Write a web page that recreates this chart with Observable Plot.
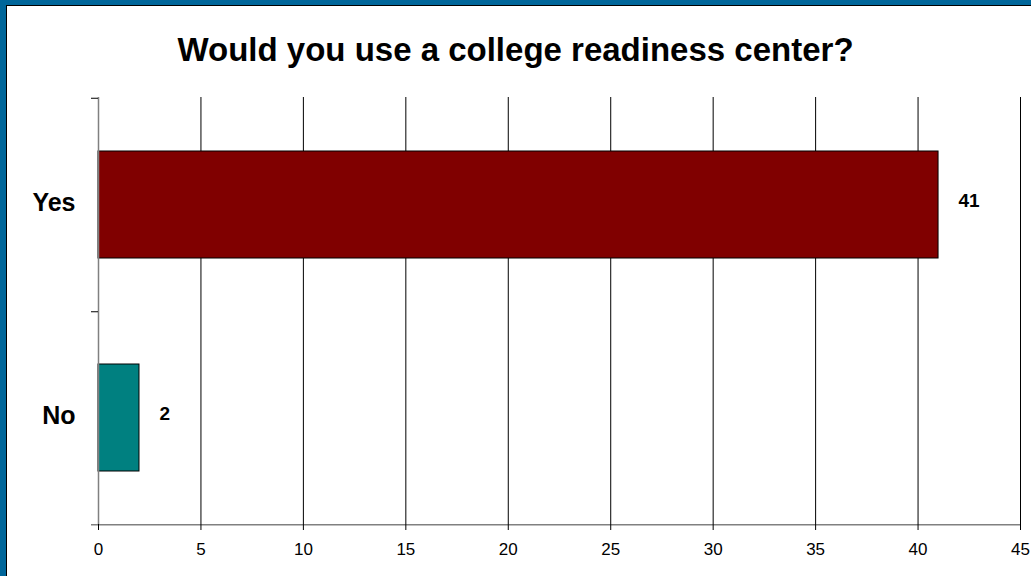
<!DOCTYPE html>
<html>
<head>
<meta charset="utf-8">
<script src="https://cdn.jsdelivr.net/npm/d3@7"></script>
<script src="https://cdn.jsdelivr.net/npm/@observablehq/plot@0.6"></script>
<style>
  html, body { margin: 0; padding: 0; background: #fff; }
  #page { position: relative; width: 1031px; height: 576px; overflow: hidden; background: #00669a; font-family: "Liberation Sans", Arial, sans-serif; }
  #inner { position: absolute; left: 6px; top: 5px; width: 1030px; height: 576px; background: #fff; border-left: 1px solid #000; border-top: 1px solid #000; }
  #title { position: absolute; left: 0; top: 0; width: 1031px; text-align: center; font-weight: bold; font-size: 33px; line-height: 1; padding-top: 33px; color: #000; }
  #chart { position: absolute; left: 0; top: 0; }
</style>
</head>
<body>
<div id="page">
  <div id="inner"></div>
  <div id="title">Would you use a college readiness center?</div>
  <div id="chart"></div>
</div>
<script>
const categories = ["Yes", "No"];
const values = [41, 2];
const barColors = ["#800000", "#008080"];
const xTicks = [0, 5, 10, 15, 20, 25, 30, 35, 40, 45];

const data = categories.map((c, i) => ({answer: c, value: values[i], color: barColors[i]}));

const W = 1031, H = 576, mL = 98, mR = 11, mT = 97, mB = 52;
const step = (H - mT - mB) / categories.length;
const half = step / 2;

const chart = Plot.plot({
  width: W,
  height: H,
  marginLeft: mL,
  marginRight: mR,
  marginTop: mT,
  marginBottom: mB,
  style: {background: "transparent", fontFamily: "'Liberation Sans', Arial, sans-serif", color: "#000"},
  x: {domain: [0, 45], ticks: xTicks},
  y: {domain: categories, paddingInner: 0.5, paddingOuter: 0.25, axis: null},
  marks: [
    Plot.gridX(xTicks, {stroke: "#000", strokeOpacity: 1, strokeWidth: 1}),
    Plot.barX(data, {x: "value", y: "answer", fill: "color", stroke: "#000", strokeWidth: 1}),
    Plot.ruleX([0], {stroke: "#808080", strokeWidth: 1.5}),
    Plot.ruleY(["No"], {dy: half, stroke: "#808080", strokeWidth: 1.5, insetLeft: -7}),
    Plot.ruleY(["Yes"], {dy: -half, stroke: "#000", insetLeft: -7, insetRight: W - mL - mR}),
    Plot.ruleY(["Yes"], {dy: half, stroke: "#000", insetLeft: -7, insetRight: W - mL - mR}),
    Plot.axisX({ticks: xTicks, tickSize: 6, tickPadding: 12, fontSize: 17, label: null, stroke: "#000"}),
    Plot.text(data, {y: "answer", frameAnchor: "left", text: "answer", textAnchor: "end", dx: -23, dy: -2, fontSize: 25, fontWeight: "bold", fill: "#000"}),
    Plot.text(data, {x: "value", y: "answer", text: d => String(d.value), textAnchor: "start", dx: 20, dy: -4, fontSize: 19, fontWeight: "bold", fill: "#000"})
  ]
});
document.getElementById("chart").appendChild(chart);
</script>
</body>
</html>
